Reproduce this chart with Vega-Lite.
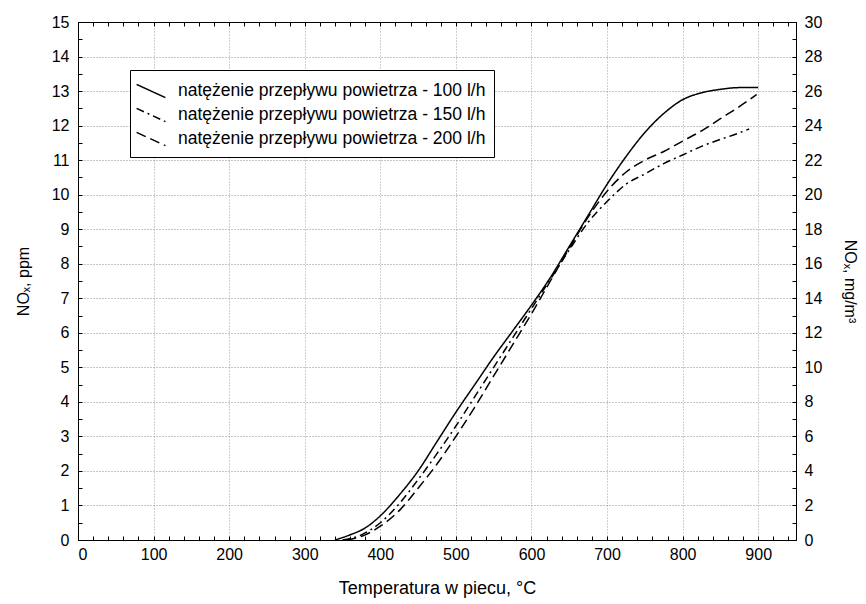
{
  "$schema": "https://vega.github.io/schema/vega-lite/v6.json",
  "width": 718,
  "height": 518,
  "autosize": "none",
  "padding": {"left": 78, "top": 22, "right": 70, "bottom": 64},
  "background": "white",
  "config": {
    "font": "Liberation Sans",
    "view": {"stroke": "black", "strokeWidth": 1},
    "axis": {
      "domainColor": "black",
      "tickColor": "black",
      "labelColor": "black",
      "titleColor": "black",
      "labelFont": "Liberation Sans",
      "titleFont": "Liberation Sans",
      "labelFontSize": 16,
      "titleFontSize": 16,
      "titleFontWeight": "normal",
      "gridColor": "#8a8a8a",
      "gridDash": [1, 2],
      "gridWidth": 1
    }
  },
  "datasets": {
    "curves": [
      {"series": "natężenie przepływu powietrza - 100 l/h", "t": 340, "v": 0},
      {"series": "natężenie przepływu powietrza - 100 l/h", "t": 360, "v": 0.15},
      {"series": "natężenie przepływu powietrza - 100 l/h", "t": 380, "v": 0.35},
      {"series": "natężenie przepływu powietrza - 100 l/h", "t": 400, "v": 0.7},
      {"series": "natężenie przepływu powietrza - 100 l/h", "t": 425, "v": 1.3},
      {"series": "natężenie przepływu powietrza - 100 l/h", "t": 450, "v": 2.0},
      {"series": "natężenie przepływu powietrza - 100 l/h", "t": 475, "v": 2.85},
      {"series": "natężenie przepływu powietrza - 100 l/h", "t": 500, "v": 3.7},
      {"series": "natężenie przepływu powietrza - 100 l/h", "t": 525, "v": 4.5},
      {"series": "natężenie przepływu powietrza - 100 l/h", "t": 550, "v": 5.3},
      {"series": "natężenie przepływu powietrza - 100 l/h", "t": 575, "v": 6.05},
      {"series": "natężenie przepływu powietrza - 100 l/h", "t": 600, "v": 6.8},
      {"series": "natężenie przepływu powietrza - 100 l/h", "t": 625, "v": 7.6},
      {"series": "natężenie przepływu powietrza - 100 l/h", "t": 650, "v": 8.5},
      {"series": "natężenie przepływu powietrza - 100 l/h", "t": 675, "v": 9.4},
      {"series": "natężenie przepływu powietrza - 100 l/h", "t": 700, "v": 10.3},
      {"series": "natężenie przepływu powietrza - 100 l/h", "t": 725, "v": 11.1},
      {"series": "natężenie przepływu powietrza - 100 l/h", "t": 750, "v": 11.8},
      {"series": "natężenie przepływu powietrza - 100 l/h", "t": 775, "v": 12.35},
      {"series": "natężenie przepływu powietrza - 100 l/h", "t": 800, "v": 12.75},
      {"series": "natężenie przepływu powietrza - 100 l/h", "t": 825, "v": 12.95},
      {"series": "natężenie przepływu powietrza - 100 l/h", "t": 850, "v": 13.05},
      {"series": "natężenie przepływu powietrza - 100 l/h", "t": 875, "v": 13.1},
      {"series": "natężenie przepływu powietrza - 100 l/h", "t": 900, "v": 13.1},
      {"series": "natężenie przepływu powietrza - 150 l/h", "t": 350, "v": 0},
      {"series": "natężenie przepływu powietrza - 150 l/h", "t": 375, "v": 0.15},
      {"series": "natężenie przepływu powietrza - 150 l/h", "t": 400, "v": 0.5},
      {"series": "natężenie przepływu powietrza - 150 l/h", "t": 425, "v": 1.05},
      {"series": "natężenie przepływu powietrza - 150 l/h", "t": 450, "v": 1.75},
      {"series": "natężenie przepływu powietrza - 150 l/h", "t": 475, "v": 2.5},
      {"series": "natężenie przepływu powietrza - 150 l/h", "t": 500, "v": 3.3},
      {"series": "natężenie przepływu powietrza - 150 l/h", "t": 525, "v": 4.15},
      {"series": "natężenie przepływu powietrza - 150 l/h", "t": 550, "v": 5.0},
      {"series": "natężenie przepływu powietrza - 150 l/h", "t": 575, "v": 5.85},
      {"series": "natężenie przepływu powietrza - 150 l/h", "t": 600, "v": 6.7},
      {"series": "natężenie przepływu powietrza - 150 l/h", "t": 625, "v": 7.55},
      {"series": "natężenie przepływu powietrza - 150 l/h", "t": 650, "v": 8.4},
      {"series": "natężenie przepływu powietrza - 150 l/h", "t": 675, "v": 9.2},
      {"series": "natężenie przepływu powietrza - 150 l/h", "t": 700, "v": 9.8},
      {"series": "natężenie przepływu powietrza - 150 l/h", "t": 725, "v": 10.3},
      {"series": "natężenie przepływu powietrza - 150 l/h", "t": 750, "v": 10.6},
      {"series": "natężenie przepływu powietrza - 150 l/h", "t": 775, "v": 10.9},
      {"series": "natężenie przepływu powietrza - 150 l/h", "t": 800, "v": 11.15},
      {"series": "natężenie przepływu powietrza - 150 l/h", "t": 825, "v": 11.4},
      {"series": "natężenie przepływu powietrza - 150 l/h", "t": 850, "v": 11.6},
      {"series": "natężenie przepływu powietrza - 150 l/h", "t": 870, "v": 11.75},
      {"series": "natężenie przepływu powietrza - 150 l/h", "t": 888, "v": 11.9},
      {"series": "natężenie przepływu powietrza - 200 l/h", "t": 355, "v": 0},
      {"series": "natężenie przepływu powietrza - 200 l/h", "t": 380, "v": 0.15},
      {"series": "natężenie przepływu powietrza - 200 l/h", "t": 400, "v": 0.4},
      {"series": "natężenie przepływu powietrza - 200 l/h", "t": 425, "v": 0.85},
      {"series": "natężenie przepływu powietrza - 200 l/h", "t": 450, "v": 1.5},
      {"series": "natężenie przepływu powietrza - 200 l/h", "t": 475, "v": 2.2},
      {"series": "natężenie przepływu powietrza - 200 l/h", "t": 500, "v": 3.0},
      {"series": "natężenie przepływu powietrza - 200 l/h", "t": 525, "v": 3.85},
      {"series": "natężenie przepływu powietrza - 200 l/h", "t": 550, "v": 4.75},
      {"series": "natężenie przepływu powietrza - 200 l/h", "t": 575, "v": 5.65},
      {"series": "natężenie przepływu powietrza - 200 l/h", "t": 600, "v": 6.55},
      {"series": "natężenie przepływu powietrza - 200 l/h", "t": 625, "v": 7.5},
      {"series": "natężenie przepływu powietrza - 200 l/h", "t": 650, "v": 8.45},
      {"series": "natężenie przepływu powietrza - 200 l/h", "t": 675, "v": 9.35},
      {"series": "natężenie przepływu powietrza - 200 l/h", "t": 700, "v": 10.1},
      {"series": "natężenie przepływu powietrza - 200 l/h", "t": 725, "v": 10.65},
      {"series": "natężenie przepływu powietrza - 200 l/h", "t": 750, "v": 11.0},
      {"series": "natężenie przepływu powietrza - 200 l/h", "t": 775, "v": 11.25},
      {"series": "natężenie przepływu powietrza - 200 l/h", "t": 800, "v": 11.55},
      {"series": "natężenie przepływu powietrza - 200 l/h", "t": 825, "v": 11.85},
      {"series": "natężenie przepływu powietrza - 200 l/h", "t": 850, "v": 12.2},
      {"series": "natężenie przepływu powietrza - 200 l/h", "t": 875, "v": 12.55},
      {"series": "natężenie przepływu powietrza - 200 l/h", "t": 898, "v": 12.9}
    ]
  },
  "layer": [
    {
      "data": {"name": "curves"},
      "mark": {"type": "line", "color": "black", "strokeWidth": 1.5, "interpolate": "monotone"},
      "encoding": {
        "x": {
          "field": "t", "type": "quantitative",
          "scale": {"domain": [0, 950], "nice": false, "zero": false},
          "axis": {
            "orient": "bottom", "title": "Temperatura w piecu, °C",
            "titleFontSize": 18,
            "values": [0,20,40,60,80,100,120,140,160,180,200,220,240,260,280,300,320,340,360,380,400,420,440,460,480,500,520,540,560,580,600,620,640,660,680,700,720,740,760,780,800,820,840,860,880,900,920,940],
            "labelExpr": "datum.value % 100 === 0 ? format(datum.value, 'd') : ''",
            "grid": true,
            "gridOpacity": {"condition": {"test": "datum.value % 100 === 0 && datum.value > 0", "value": 0.8}, "value": 0},
            "tickSize": -4, "labelPadding": 10, "titlePadding": 17, "domain": true
          }
        },
        "y": {
          "field": "v", "type": "quantitative",
          "scale": {"domain": [0, 15], "nice": false},
          "axis": {
            "orient": "left", "title": "NOₓ, ppm",
            "values": [0,0.5,1,1.5,2,2.5,3,3.5,4,4.5,5,5.5,6,6.5,7,7.5,8,8.5,9,9.5,10,10.5,11,11.5,12,12.5,13,13.5,14,14.5,15],
            "labelExpr": "datum.value % 1 === 0 ? format(datum.value, 'd') : ''",
            "grid": true,
            "gridOpacity": {"condition": {"test": "datum.value % 1 === 0 && datum.value > 0 && datum.value < 15", "value": 1}, "value": 0},
            "tickSize": -4, "labelPadding": 13, "titlePadding": 20
          }
        },
        "strokeDash": {
          "field": "series", "type": "nominal",
          "scale": {
            "domain": ["natężenie przepływu powietrza - 100 l/h", "natężenie przepływu powietrza - 150 l/h", "natężenie przepływu powietrza - 200 l/h"],
            "range": [[1, 0], [8, 4, 2, 4], [10, 5]]
          },
          "legend": {
            "orient": "none", "legendX": 52, "legendY": 48,
            "title": null,
            "symbolType": "M-1.2,-0.55L1.2,0.55",
            "symbolSize": 576,
            "symbolStrokeWidth": 1.5,
            "symbolStrokeColor": "black",
            "symbolFillColor": "transparent",
            "labelFont": "Liberation Sans",
            "labelFontSize": 17.5,
            "labelColor": "black",
            "labelLimit": 400,
            "labelOffset": 14,
            "strokeColor": "black",
            "fillColor": "white",
            "padding": 8,
            "rowPadding": 1
          }
        }
      }
    },
    {
      "data": {"name": "curves"},
      "mark": {"type": "point", "opacity": 0},
      "encoding": {
        "x": {
          "field": "t", "type": "quantitative",
          "scale": {"domain": [0, 950], "nice": false, "zero": false},
          "axis": {
            "orient": "top", "title": null, "labels": false, "grid": false,
            "values": [0,20,40,60,80,100,120,140,160,180,200,220,240,260,280,300,320,340,360,380,400,420,440,460,480,500,520,540,560,580,600,620,640,660,680,700,720,740,760,780,800,820,840,860,880,900,920,940],
            "tickSize": -4, "domain": true
          }
        }
      }
    },
    {
      "data": {"name": "curves"},
      "mark": {"type": "point", "opacity": 0},
      "encoding": {
        "y": {
          "field": "v", "type": "quantitative",
          "scale": {"domain": [0, 30], "nice": false},
          "axis": {
            "orient": "right", "title": "NOₓ, mg/m³",
            "values": [0,1,2,3,4,5,6,7,8,9,10,11,12,13,14,15,16,17,18,19,20,21,22,23,24,25,26,27,28,29,30],
            "labelExpr": "datum.value % 2 === 0 ? format(datum.value, 'd') : ''",
            "grid": false,
            "tickSize": -4, "labelPadding": 12, "titlePadding": 20
          }
        }
      }
    }
  ],
  "resolve": {"scale": {"x": "independent", "y": "independent"}}
}
